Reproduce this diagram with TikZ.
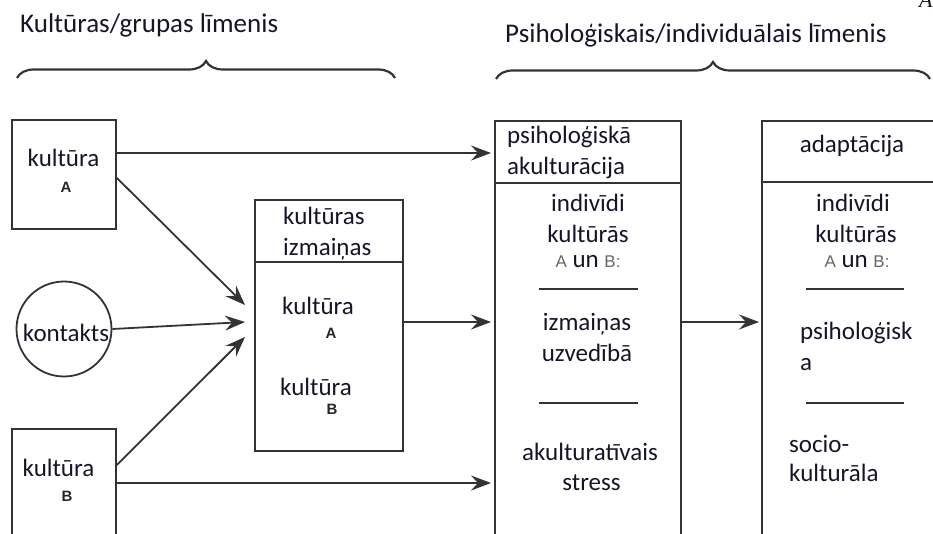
\documentclass[tikz,border=0pt]{standalone}
\usepackage{fontspec}
\setmainfont{Carlito}
\newfontfamily\arialf{Liberation Sans}
\newfontfamily\seriff{Liberation Serif}
\usetikzlibrary{arrows.meta,decorations.pathreplacing}
\definecolor{ln}{HTML}{333333}
\definecolor{tx}{HTML}{15152A}
\newcommand\sabf[1]{{\color{black!60}\arialf\fontsize{17}{20}\selectfont #1}}
\begin{document}
\begin{tikzpicture}[x=1pt,y=-1pt,
  box/.style={draw=ln,line width=1.8pt,inner sep=0pt,fill=none},
  txt/.style={inner sep=0pt,text=tx,font=\fontsize{25}{30}\selectfont,anchor=base},
  txl/.style={txt,anchor=base west},
  ttl/.style={inner sep=0pt,text=tx,font=\fontsize{27}{32}\selectfont,anchor=base west},
  lab/.style={inner sep=0pt,text=black!85,font=\arialf\bfseries\fontsize{15}{18}\selectfont,anchor=base},
  arr/.style={draw=ln,line width=1.8pt,-{Stealth[length=20pt,width=15pt,inset=7pt]}},
  sep/.style={draw=ln,line width=1.8pt},
  brc/.style={draw=ln,line width=2.2pt,decorate,decoration={brace,amplitude=17pt}}]
\useasboundingbox (0,0) rectangle (933,534);
\clip (0,0) rectangle (933,534);
% titles
\node[ttl] (t1) at (20,33) {Kultūras/grupas līmenis};
\node[ttl] (t2) at (505,43) {Psiholoģiskais/individuālais līmenis};
\node[inner sep=0pt,anchor=base west,font=\seriff\itshape\fontsize{22}{24}\selectfont,text=tx] (cornerA) at (919,8) {A};
% braces
\coordinate (b1l) at (17,78); \coordinate (b1r) at (395,78);
\coordinate (b2l) at (496,79); \coordinate (b2r) at (930,79);
\draw[brc] (b1l) -- (b1r);
\draw[brc] (b2l) -- (b2r);
% left column
\node[box,minimum width=104pt,minimum height=109pt] (ka) at (64,174.5) {};
\node[txt] (kat) at (63.5,167) {kultūra};
\node[lab] (kal) at (66,193) {A};
\node[box,circle,minimum size=95pt] (kont) at (64,329) {};
\node[txt] (kontt) at (66,341) {kontakts};
\node[box,minimum width=104pt,minimum height=140pt] (kb) at (64,499) {};
\node[txt] (kbt) at (58.5,476) {kultūra};
\node[lab] (kbl) at (67,501) {B};
% middle box
\node[box,minimum width=148pt,minimum height=251pt] (mid) at (329,325.5) {};
\coordinate (mdy) at (0,262);
\draw[sep] (mid.west |- mdy) -- (mid.east |- mdy);
\node[txl] (m1) at (283,225) {kultūras};
\node[txl] (m2) at (283,256) {izmaiņas};
\node[txl] (m3) at (282,314) {kultūra};
\node[lab] (m3l) at (331,338) {A};
\node[txl] (m4) at (280,395) {kultūra};
\node[lab] (m4l) at (332,414) {B};
% psychological box
\node[box,minimum width=186pt,minimum height=450pt] (psy) at (588,346) {};
\coordinate (psy1) at (0,183);
\draw[sep] (psy.west |- psy1) -- (psy.east |- psy1);
\node[txl] (p1) at (507,144) {psiholoģiskā};
\node[txl] (p2) at (507,175) {akulturācija};
\node[txt] (p3) at (588,212) {indivīdi};
\node[txt] (p4) at (588,243) {kultūrās};
\node[txt] (p5) at (588,268) {\sabf{A} un \sabf{B:}};
\coordinate (pl1a) at (539,289); \coordinate (pl1b) at (638,289);
\draw[sep] (pl1a) -- (pl1b);
\node[txt] (p6) at (587,330) {izmaiņas};
\node[txt] (p7) at (587,361) {uzvedībā};
\coordinate (pl2a) at (539,403); \coordinate (pl2b) at (638,403);
\draw[sep] (pl2a) -- (pl2b);
\node[txt] (p8) at (590,460) {akulturatīvais};
\node[txt] (p9) at (591.5,490) {stress};
% adaptation box
\node[box,minimum width=198pt,minimum height=450pt] (ad) at (861,346) {};
\coordinate (ad1) at (0,182);
\draw[sep] (ad.west |- ad1) -- (ad.east |- ad1);
\node[txt] (a1) at (852,153) {adaptācija};
\node[txt] (a2) at (853,212) {indivīdi};
\node[txt] (a3) at (856,243) {kultūrās};
\node[txt] (a4) at (857,268) {\sabf{A} un \sabf{B:}};
\coordinate (al1a) at (806,289); \coordinate (al1b) at (904,289);
\draw[sep] (al1a) -- (al1b);
\node[txl] (a5) at (800,339) {psiholoģisk};
\node[txl] (a6) at (800,370) {a};
\coordinate (al2a) at (806,403); \coordinate (al2b) at (904,403);
\draw[sep] (al2a) -- (al2b);
\node[txl] (a7) at (789,452) {socio-};
\node[txl] (a8) at (789,481) {kulturāla};
% connectors
\coordinate (y153) at (0,153);
\coordinate (y178) at (0,178);
\coordinate (y322) at (0,322);
\coordinate (y465) at (0,465);
\coordinate (y483) at (0,483);
\coordinate (c1) at (245,305);
\coordinate (c2) at (245,322);
\coordinate (c3) at (245,337);
\coordinate (e1) at (491,153);
\coordinate (e2) at (491,322);
\coordinate (e3) at (491,483);
\coordinate (e4) at (759,322);
\draw[arr] (ka.east |- y153) -- (e1);
\draw[arr] (ka.east |- y178) -- (c1);
\draw[arr] (kont.east) -- (c2);
\draw[arr] (kb.east |- y465) -- (c3);
\draw[arr] (kb.east |- y483) -- (e3);
\draw[arr] (mid.east |- y322) -- (e2);
\draw[arr] (psy.east |- y322) -- (e4);
\end{tikzpicture}
\end{document}
